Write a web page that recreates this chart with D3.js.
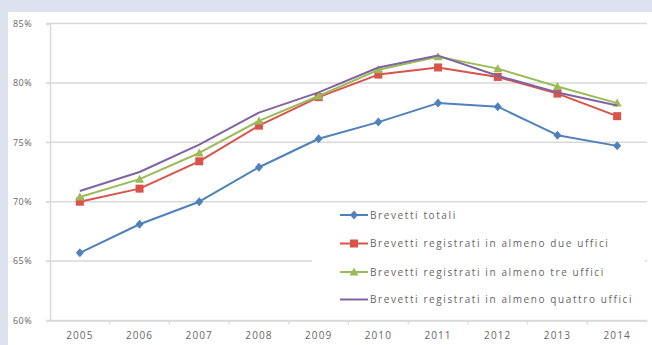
<!DOCTYPE html>
<html>
<head>
<meta charset="utf-8">
<script src="https://cdn.jsdelivr.net/npm/d3@7/dist/d3.min.js"></script>
<style>
  html, body { margin: 0; padding: 0; background: #dce2ee; }
  svg { display: block; }
  text { font-family: "Open Sans", "Liberation Sans", sans-serif; fill: #666666; }
</style>
</head>
<body>
<svg id="chart" width="652" height="345"></svg>
<script>
// Quota di brevetti (%) per anno
const years = ["2005", "2006", "2007", "2008", "2009", "2010", "2011", "2012", "2013", "2014"];
const totali   = [65.7, 68.1, 70.0, 72.9, 75.3, 76.7, 78.3, 78.0, 75.6, 74.7];
const dueUff   = [70.0, 71.1, 73.4, 76.4, 78.8, 80.7, 81.3, 80.5, 79.1, 77.2];
const treUff   = [70.4, 71.9, 74.1, 76.8, 78.9, 81.1, 82.2, 81.2, 79.7, 78.3];
const quattroUff = [70.9, 72.5, 74.8, 77.5, 79.2, 81.3, 82.3, 80.6, 79.2, 78.1];
const yTicks = [60, 65, 70, 75, 80, 85];
const seriesNames = [
  "Brevetti totali",
  "Brevetti registrati in almeno due uffici",
  "Brevetti registrati in almeno tre uffici",
  "Brevetti registrati in almeno quattro uffici"
];

const series = [
  { name: seriesNames[0], values: totali,     color: "#4f81bd", marker: "diamond" },
  { name: seriesNames[1], values: dueUff,     color: "#d9534a", marker: "square" },
  { name: seriesNames[2], values: treUff,     color: "#9bbb59", marker: "triangle" },
  { name: seriesNames[3], values: quattroUff, color: "#8064a2", marker: null }
];

const svg = d3.select("#chart");

// white chart panel
svg.append("rect").attr("x", 8).attr("y", 12).attr("width", 644).attr("height", 333).attr("fill", "#ffffff");

const x = d3.scaleBand().domain(years).range([50, 647]).padding(0);
const y = d3.scaleLinear().domain([60, 85]).range([320.5, 23.5]);

// horizontal gridlines
svg.append("g").selectAll("line").data(yTicks).join("line")
  .attr("x1", 46).attr("x2", 647)
  .attr("y1", d => y(d)).attr("y2", d => y(d))
  .attr("stroke", "#d9d9d9").attr("stroke-width", 1.5);

// y axis
const yAxis = svg.append("g").attr("transform", "translate(50,0)")
  .call(d3.axisLeft(y).tickValues(yTicks).tickFormat(d => d + "%").tickSize(4).tickPadding(14));
yAxis.select(".domain").attr("stroke", "#d9d9d9").attr("stroke-width", 1.5);
yAxis.selectAll(".tick line").attr("stroke", "#d9d9d9");
yAxis.selectAll("text").attr("font-size", 9).attr("fill", "#666666").attr("font-family", "Open Sans, sans-serif")
  .attr("letter-spacing", 0.4);

// x axis with ticks at category boundaries
const xAxis = svg.append("g").attr("transform", `translate(0,${y(60)})`)
  .call(d3.axisBottom(x).tickSize(0).tickPadding(11));
xAxis.select(".domain").attr("stroke", "#d9d9d9").attr("stroke-width", 1.5);
xAxis.selectAll("text").attr("font-size", 10).attr("fill", "#666666").attr("font-family", "Open Sans, sans-serif")
  .attr("letter-spacing", 1.1);
svg.append("g").selectAll("line").data(years.slice(1)).join("line")
  .attr("x1", d => x(d)).attr("x2", d => x(d))
  .attr("y1", y(60)).attr("y2", y(60) + 4)
  .attr("stroke", "#d9d9d9").attr("stroke-width", 1.2);

const cx = d => x(d) + x.bandwidth() / 2;

function drawMarker(g, type, color, px, py) {
  if (type === "diamond") {
    g.append("path").attr("d", `M${px},${py - 4.5}L${px + 4},${py}L${px},${py + 4.5}L${px - 4},${py}Z`).attr("fill", color);
  } else if (type === "square") {
    g.append("rect").attr("x", px - 4).attr("y", py - 4).attr("width", 8).attr("height", 8).attr("fill", color);
  } else if (type === "triangle") {
    g.append("path").attr("d", `M${px},${py - 4.5}L${px + 4.5},${py + 3.5}L${px - 4.5},${py + 3.5}Z`).attr("fill", color);
  }
}

const line = d3.line().x((d, i) => cx(years[i])).y(d => y(d));

series.forEach(s => {
  const g = svg.append("g");
  g.append("path").datum(s.values).attr("d", line)
    .attr("fill", "none").attr("stroke", s.color).attr("stroke-width", 2).attr("stroke-linejoin", "round");
  s.values.forEach((v, i) => drawMarker(g, s.marker, s.color, cx(years[i]), y(v)));
});

// legend
const legend = svg.append("g");
legend.append("rect").attr("x", 312).attr("y", 204).attr("width", 333).attr("height", 112).attr("fill", "#ffffff");
const rowY = [215, 243.5, 272, 299.5];
series.forEach((s, i) => {
  const ly = rowY[i];
  legend.append("line").attr("x1", 340).attr("x2", 368).attr("y1", ly).attr("y2", ly)
    .attr("stroke", s.color).attr("stroke-width", 2);
  drawMarker(legend, s.marker, s.color, 354, ly);
  legend.append("text").attr("x", 370).attr("y", ly).attr("dy", "0.35em")
    .attr("font-size", 10).attr("letter-spacing", 1.6).text(s.name);
});
</script>
</body>
</html>
